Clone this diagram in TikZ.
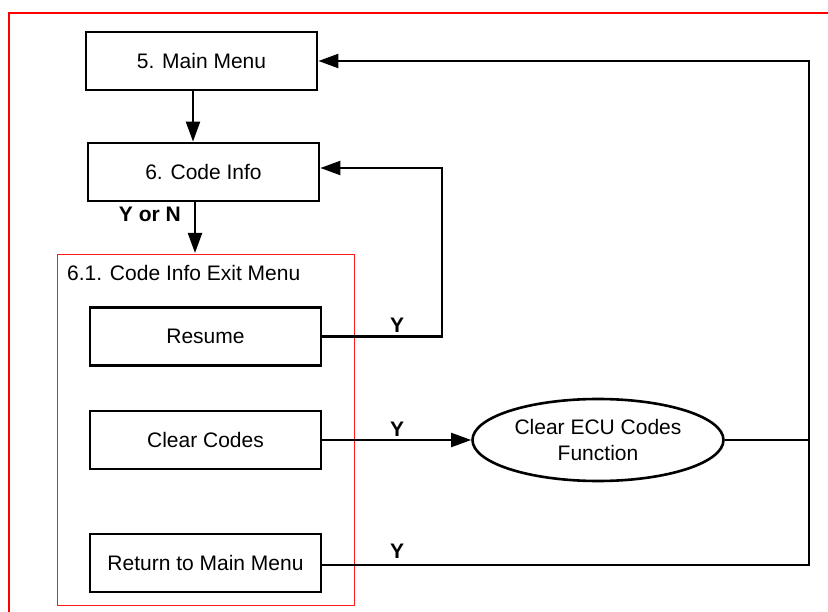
\documentclass[tikz,border=0pt]{standalone}
\usepackage{fontspec}
\setmainfont{Liberation Sans}
\usetikzlibrary{arrows.meta,shapes.geometric}
\begin{document}
\begin{tikzpicture}[x=1pt,y=-1pt,
  box/.style={draw=black, line width=2.8pt, minimum width=231pt, minimum height=58pt, inner sep=0pt,
    font=\fontsize{21}{26}\selectfont},
  oval/.style={draw=black, ellipse, line width=2.6pt, minimum width=251pt, minimum height=82pt, inner sep=0pt,
    align=center, font=\fontsize{21}{26}\selectfont},
  conn/.style={line width=2.2pt, black},
  arr/.style={conn, -{Triangle[length=20pt,width=14pt]}},
  lbl/.style={font=\fontsize{21}{26}\selectfont\bfseries, inner sep=0pt},
  plain/.style={font=\fontsize{21}{26}\selectfont, inner sep=0pt}
]
\useasboundingbox (0,0) rectangle (828,612);
\clip (0,0) rectangle (828,612);
\fill[white] (0,0) rectangle (828,612);
% outer red frame (extends past the right and bottom edges)
\draw[red, line width=2.5pt] (9,13) rectangle (850,640);
% exit menu group
\draw[red!90!white, line width=1pt] (57,255) rectangle (354,605);
\node[plain, anchor=base west] (grp) at (67,281) {6.1. Code Info Exit Menu};

\node[box] (main) at (201.5,61) {5. Main Menu};
\node[box] (code) at (203.5,172) {6. Code Info};
\node[box] (res) at (205.5,336.5) {Resume};
\node[box] (clr) at (205.5,440) {Clear Codes};
\node[box] (ret) at (205.5,563) {Return to Main Menu};
\node[oval] (ecu) at (598,440) {Clear ECU Codes\\Function};

\coordinate (rr) at (442,0);
\coordinate (bus) at (809,0);
\coordinate (ry) at (0,565);
\coordinate (cy) at (0,168);

\draw[arr] (main.south -| 193,0) -- (code.north -| 193,0);
\draw[arr] (code.south -| 195,0) -- (195,253);
\node[lbl, anchor=base east] (yn) at (181,222) {Y or N};

\draw[arr] (res.east) -- (res.east -| rr) -- (cy -| rr) -- (cy -| code.east);
\node[lbl, anchor=base] (y1) at (397,333) {Y};

\draw[arr] (clr.east) -- (ecu.west);
\node[lbl, anchor=base] (y2) at (397,436) {Y};

\draw[conn] (ecu.east) -- (ecu.east -| bus);
\draw[arr] (ret.east |- ry) -- (ry -| bus) -- (main.east -| bus) -- (main.east);
\node[lbl, anchor=base] (y3) at (397,558) {Y};
\end{tikzpicture}
\end{document}
